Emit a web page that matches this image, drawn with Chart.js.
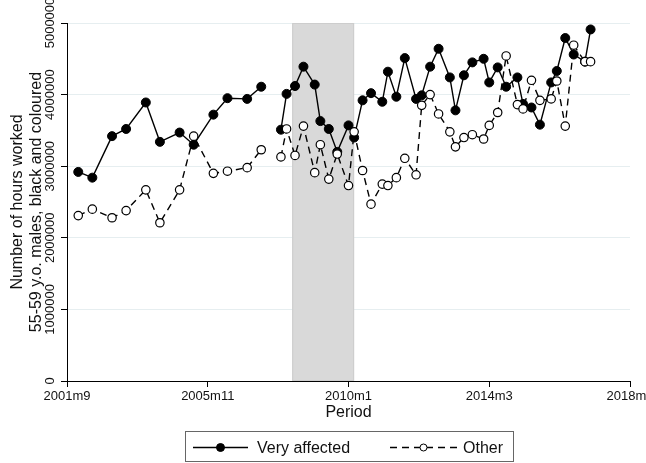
<!DOCTYPE html>
<html>
<head>
<meta charset="utf-8">
<script src="https://cdn.jsdelivr.net/npm/chart.js@4.4.1/dist/chart.umd.min.js"></script>
<style>
  html, body { margin: 0; padding: 0; background: #fff; }
  canvas { display: block; }
</style>
</head>
<body>
<canvas id="hoursChart" width="646" height="463"></canvas>
<script>
/* ---------- Data ---------- */
// "2007m9" is an empty survey round: it breaks the lines like in the original
const PERIODS = [
  "2002m1","2002m6","2003m1","2003m6","2004m1","2004m6",
  "2005m1","2005m6","2006m1","2006m6","2007m1","2007m6",
  "2007m9",
  "2008m1","2008m3","2008m6","2008m9","2009m1","2009m3","2009m6","2009m9",
  "2010m1","2010m3","2010m6","2010m9","2011m1","2011m3","2011m6","2011m9",
  "2012m1","2012m3","2012m6","2012m9","2013m1","2013m3","2013m6","2013m9",
  "2014m1","2014m3","2014m6","2014m9","2015m1","2015m3","2015m6","2015m9",
  "2016m1","2016m3","2016m6","2016m9","2017m1","2017m3"
];

const VERY_AFFECTED = [
  2920000, 2840000, 3420000, 3520000, 3890000, 3340000,
  3470000, 3300000, 3720000, 3950000, 3940000, 4110000,
  null,
  3510000, 4010000, 4120000, 4390000, 4140000, 3630000, 3520000, 3200000,
  3570000, 3400000, 3920000, 4020000, 3900000, 4320000, 3970000, 4510000,
  3940000, 3990000, 4390000, 4640000, 4240000, 3780000, 4270000, 4450000,
  4500000, 4170000, 4380000, 4110000, 4240000, 3870000, 3820000, 3580000,
  4170000, 4330000, 4790000, 4560000, 4460000, 4910000
];

const OTHER = [
  2310000, 2400000, 2280000, 2380000, 2670000, 2210000,
  2670000, 3420000, 2900000, 2930000, 2980000, 3230000,
  null,
  3130000, 3520000, 3150000, 3560000, 2910000, 3300000, 2820000, 3170000,
  2730000, 3480000, 2940000, 2470000, 2750000, 2730000, 2840000, 3110000,
  2880000, 3850000, 4000000, 3730000, 3480000, 3270000, 3400000, 3440000,
  3380000, 3570000, 3750000, 4540000, 3860000, 3800000, 4200000, 3920000,
  3940000, 4190000, 3560000, 4690000, 4460000, 4460000
];

const X_TICKS = ["2001m9", "2005m11", "2010m1", "2014m3", "2018m5"];
const Y_TICKS = [0, 1000000, 2000000, 3000000, 4000000, 5000000];
const RECESSION = ["2008m5", "2010m3"];

const SERIES_NAMES = ["Very affected", "Other"];
const Y_TITLE = ["Number of hours worked", "55-59 y.o. males, black and coloured"];
const X_TITLE = "Period";

const FONT = "'Liberation Sans', Arial, sans-serif";

/* ---------- Helpers ---------- */
// Stata style monthly date -> month count
function toMonth(s) {
  const [yr, mo] = s.split("m").map(Number);
  return yr * 12 + mo - 1;
}

function series(vals) {
  return PERIODS.map((p, i) => ({ x: toMonth(p), y: vals[i] }));
}

/* ---------- Plugins ---------- */
const bandPlugin = {
  id: "recessionBand",
  beforeDatasetsDraw(chart) {
    const { ctx, chartArea: a, scales: { x } } = chart;
    const x0 = x.getPixelForValue(toMonth(RECESSION[0]));
    const x1 = x.getPixelForValue(toMonth(RECESSION[1]));
    ctx.save();
    ctx.fillStyle = "#d9d9d9";
    ctx.fillRect(x0, a.top, x1 - x0, a.bottom - a.top);
    ctx.strokeStyle = "#cdcdcd";
    ctx.lineWidth = 1;
    ctx.strokeRect(x0 + 0.5, a.top + 0.5, x1 - x0 - 1, a.bottom - a.top - 1);
    ctx.restore();
  }
};

const textPlugin = {
  id: "stataText",
  afterDraw(chart) {
    const { ctx, chartArea: a, scales: { y } } = chart;
    const sets = chart.data.datasets;
    ctx.save();
    ctx.fillStyle = "#111";
    ctx.textBaseline = "alphabetic";

    // rotated y tick labels
    ctx.font = "13px " + FONT;
    ctx.textAlign = "center";
    Y_TICKS.forEach(v => {
      ctx.save();
      ctx.translate(54, y.getPixelForValue(v));
      ctx.rotate(-Math.PI / 2);
      ctx.fillText(String(v), 0, 0);
      ctx.restore();
    });

    // y title, two lines
    ctx.font = "16px " + FONT;
    const midY = (a.top + a.bottom) / 2;
    Y_TITLE.forEach((line, i) => {
      ctx.save();
      ctx.translate(22 + i * 18.7, midY);
      ctx.rotate(-Math.PI / 2);
      ctx.fillText(line, 0, 0);
      ctx.restore();
    });

    // x title
    ctx.fillText(X_TITLE, (a.left + a.right) / 2, 417);

    // legend box
    ctx.strokeStyle = "#666";
    ctx.lineWidth = 1;
    ctx.strokeRect(185.5, 431.5, 328, 30);

    const items = [
      { x0: 193, x1: 248, text: 257 },
      { x0: 390, x1: 457, text: 463 }
    ];
    items.forEach((it, i) => {
      const ds = sets[i];
      const ly = 447.5;
      ctx.save();
      ctx.strokeStyle = ds.borderColor;
      ctx.lineWidth = ds.borderWidth;
      ctx.setLineDash(ds.borderDash || []);
      ctx.beginPath();
      ctx.moveTo(it.x0, ly);
      ctx.lineTo(it.x1, ly);
      ctx.stroke();
      ctx.setLineDash([]);
      ctx.beginPath();
      ctx.arc((it.x0 + it.x1) / 2, ly, i === 0 ? 4 : 3.5, 0, Math.PI * 2);
      ctx.fillStyle = ds.pointBackgroundColor;
      ctx.fill();
      ctx.lineWidth = 1;
      ctx.strokeStyle = ds.pointBorderColor;
      ctx.stroke();
      ctx.restore();
      ctx.textAlign = "left";
      ctx.fillText(SERIES_NAMES[i], it.text, 453);
    });
    ctx.restore();
  }
};

/* ---------- Chart ---------- */
const ctx = document.getElementById("hoursChart");

new Chart(ctx, {
  type: "line",
  data: {
    datasets: [
      {
        label: SERIES_NAMES[0],
        data: series(VERY_AFFECTED),
        borderColor: "#000",
        borderWidth: 1.4,
        pointRadius: 4.5,
        pointBackgroundColor: "#000",
        pointBorderColor: "#000",
        pointBorderWidth: 1,
        tension: 0,
        order: 1
      },
      {
        label: SERIES_NAMES[1],
        data: series(OTHER),
        borderColor: "#000",
        borderWidth: 1.4,
        borderDash: [7, 5],
        pointRadius: 4.2,
        pointBackgroundColor: "#fff",
        pointBorderColor: "#000",
        pointBorderWidth: 1.2,
        tension: 0,
        order: 0
      }
    ]
  },
  options: {
    responsive: false,
    animation: false,
    devicePixelRatio: 1,
    layout: { padding: { left: 0, right: 16, top: 23, bottom: 0 } },
    plugins: {
      legend: { display: false },
      tooltip: { enabled: false }
    },
    scales: {
      x: {
        type: "linear",
        min: toMonth(X_TICKS[0]),
        max: toMonth(X_TICKS[X_TICKS.length - 1]),
        afterBuildTicks: s => { s.ticks = X_TICKS.map(t => ({ value: toMonth(t) })); },
        ticks: {
          autoSkip: false,
          maxRotation: 0,
          padding: 2,
          color: "#111",
          font: { family: FONT, size: 13 },
          callback: (v, i) => X_TICKS[i]
        },
        grid: { drawOnChartArea: false, tickLength: 6, tickColor: "#000" },
        border: { color: "#000", width: 1 },
        afterFit: s => { s.height = 82; s.paddingLeft = 0; s.paddingRight = 0; }
      },
      y: {
        min: 0,
        max: 5000000,
        afterBuildTicks: s => { s.ticks = Y_TICKS.map(v => ({ value: v })); },
        ticks: { display: false },
        grid: {
          color: c => (c.tick && c.tick.value === 0 ? "rgba(0,0,0,0)" : "#e6eef0"),
          tickLength: 6,
          tickColor: "#000"
        },
        border: { color: "#000", width: 1 },
        afterFit: s => { s.width = 67; s.paddingTop = 0; s.paddingBottom = 0; }
      }
    }
  },
  plugins: [bandPlugin, textPlugin]
});
</script>
</body>
</html>
